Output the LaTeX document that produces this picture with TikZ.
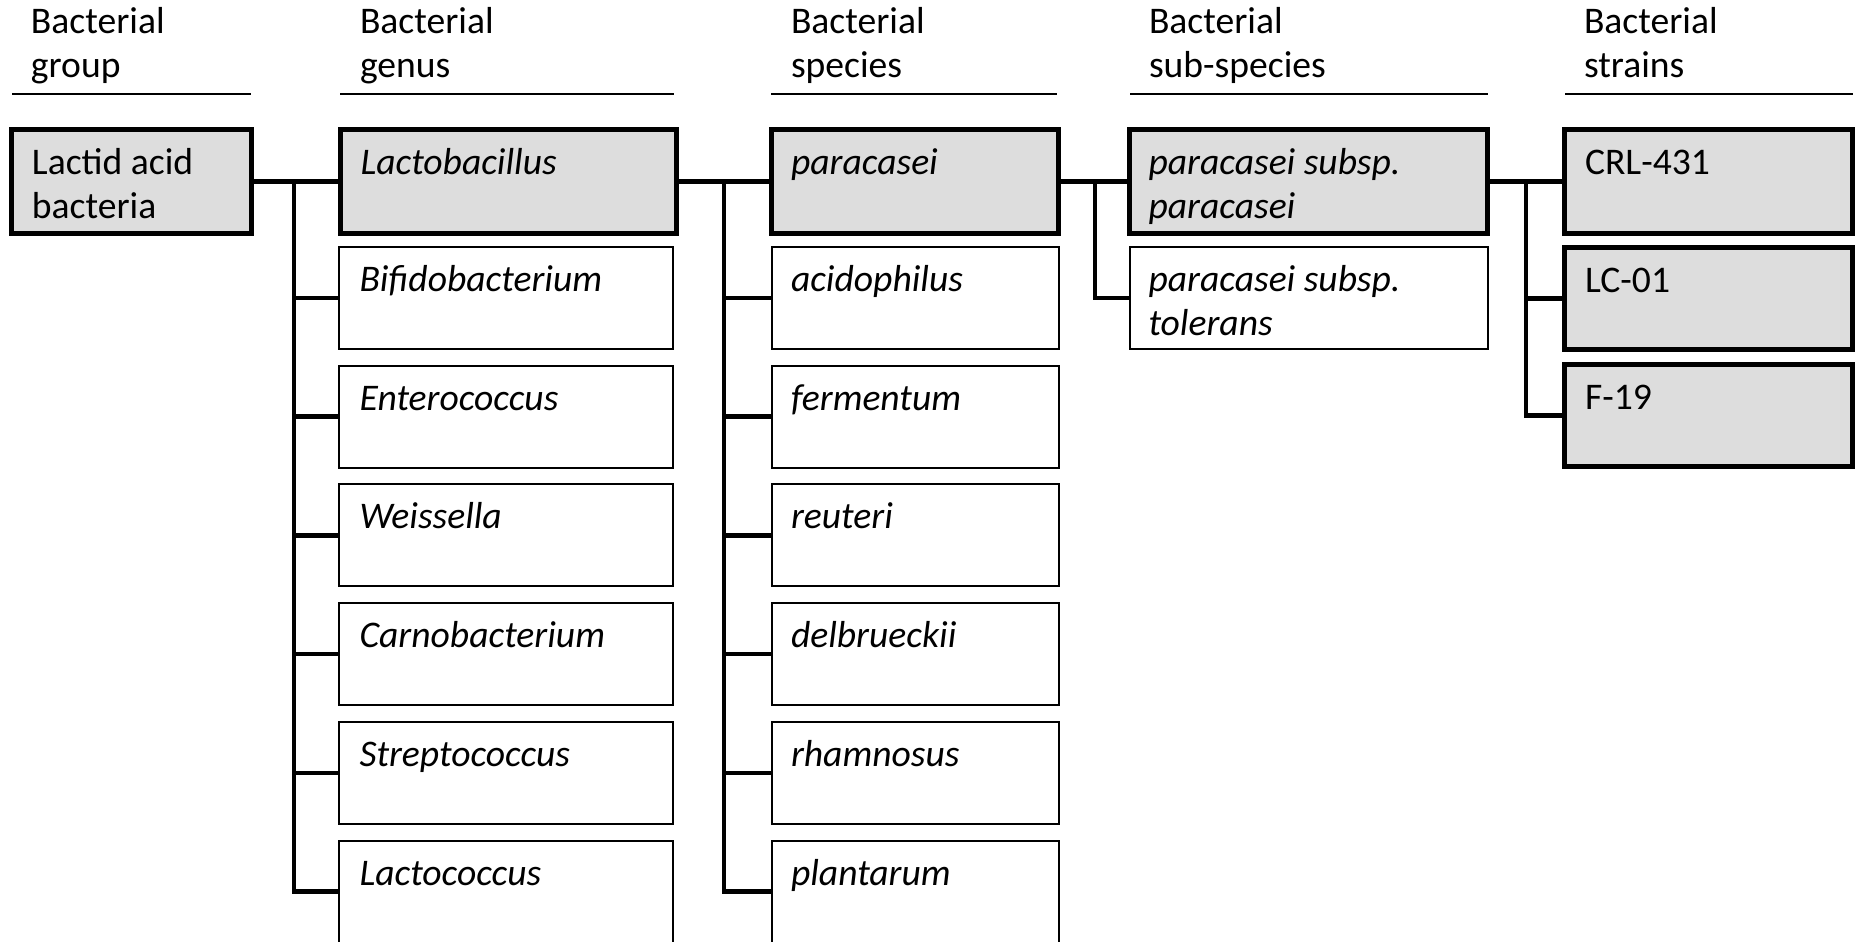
\documentclass[tikz,border=0pt]{standalone}
\usepackage{fontspec}
\setmainfont{Carlito}
\usetikzlibrary{calc}
\definecolor{boxfill}{RGB}{221,221,221}
\tikzset{
  every node/.style={inner sep=0pt, outer sep=0pt},
  hibox/.style={draw, rectangle, line width=2.5pt, fill=boxfill},
  plainbox/.style={draw, rectangle, line width=1pt, fill=white},
  lbl/.style={anchor=base west, align=left, font=\fontsize{18.8pt}{22.2pt}\selectfont},
  link/.style={line width=2.25pt},
  rulerline/.style={line width=0.9pt},
}
\begin{document}
\begin{tikzpicture}[x=0.5pt, y=-0.5pt]
\useasboundingbox (0,0) rectangle (1858,942);

% ---- column headers (anchored at the baseline of their last line) ----
\node[lbl] (h1) at (31,77.7) {Bacterial\\group};
\node[lbl] (h2) at (360,77.7) {Bacterial\\genus};
\node[lbl] (h3) at (791,77.7) {Bacterial\\species};
\node[lbl] (h4) at (1149,77.7) {Bacterial\\sub-species};
\node[lbl] (h5) at (1584,77.7) {Bacterial\\strains};
\draw[rulerline] (12,94.3) -- (251,94.3);
\draw[rulerline] (340,94.3) -- (674,94.3);
\draw[rulerline] (771,94.3) -- (1057,94.3);
\draw[rulerline] (1130,94.3) -- (1488,94.3);
\draw[rulerline] (1565,94.3) -- (1853,94.3);

% ---- group ----
\node[hibox, minimum width=119.75pt, minimum height=52pt] (grp) at (131.25,181.5) {};

% ---- genus column ----
\node[hibox, minimum width=168pt, minimum height=52pt] (g1) at (508,181.5) {};
\foreach \i/\yy in {2/298,3/416.7,4/535.4,5/654.1,6/772.8,7/891.5}
  \node[plainbox, minimum width=167pt, minimum height=51pt] (g\i) at (506,\yy) {};

% ---- species column ----
\node[hibox, minimum width=143.5pt, minimum height=52pt] (s1) at (915,181.5) {};
\foreach \i/\yy in {2/298,3/416.7,4/535.4,5/654.1,6/772.8,7/891.5}
  \node[plainbox, minimum width=143.5pt, minimum height=51pt] (s\i) at (915,\yy) {};

% ---- sub-species column ----
\node[hibox, minimum width=179pt, minimum height=52pt] (u1) at (1308.5,181.5) {};
\node[plainbox, minimum width=179pt, minimum height=51pt] (u2) at (1308.5,298) {};

% ---- strains column ----
\node[hibox, minimum width=144pt, minimum height=52pt] (c1) at (1708.5,181.5) {};
\node[hibox, minimum width=144pt, minimum height=51pt] (c2) at (1708.5,298.5) {};
\node[hibox, minimum width=144pt, minimum height=51pt] (c3) at (1708.5,415.5) {};

% ---- box texts ----
\node[lbl] (tgrp) at ($(grp.north west)+(20.5,88.9)$) {Lactid acid\\bacteria};
\node[lbl] (tg1) at ($(g1.north west)+(20.5,44.5)$) {\itshape Lactobacillus};
\node[lbl] (tg2) at ($(g2.north west)+(20.5,44.5)$) {\itshape Bifidobacterium};
\node[lbl] (tg3) at ($(g3.north west)+(20.5,44.5)$) {\itshape Enterococcus};
\node[lbl] (tg4) at ($(g4.north west)+(20.5,44.5)$) {\itshape Weissella};
\node[lbl] (tg5) at ($(g5.north west)+(20.5,44.5)$) {\itshape Carnobacterium};
\node[lbl] (tg6) at ($(g6.north west)+(20.5,44.5)$) {\itshape Streptococcus};
\node[lbl] (tg7) at ($(g7.north west)+(20.5,44.5)$) {\itshape Lactococcus};

\node[lbl] (ts1) at ($(s1.north west)+(19.5,44.5)$) {\itshape paracasei};
\node[lbl] (ts2) at ($(s2.north west)+(19.5,44.5)$) {\itshape acidophilus};
\node[lbl] (ts3) at ($(s3.north west)+(19.5,44.5)$) {\itshape fermentum};
\node[lbl] (ts4) at ($(s4.north west)+(19.5,44.5)$) {\itshape reuteri};
\node[lbl] (ts5) at ($(s5.north west)+(19.5,44.5)$) {\itshape delbrueckii};
\node[lbl] (ts6) at ($(s6.north west)+(19.5,44.5)$) {\itshape rhamnosus};
\node[lbl] (ts7) at ($(s7.north west)+(19.5,44.5)$) {\itshape plantarum};

\node[lbl] (tu1) at ($(u1.north west)+(19,88.9)$) {\itshape paracasei subsp.\\\itshape paracasei};
\node[lbl] (tu2) at ($(u2.north west)+(19,88.9)$) {\itshape paracasei subsp.\\\itshape tolerans};

\node[lbl] (tc1) at ($(c1.north west)+(20.5,44.5)$) {CRL-431};
\node[lbl] (tc2) at ($(c2.north west)+(20.5,44.5)$) {LC-01};
\node[lbl] (tc3) at ($(c3.north west)+(20.5,44.5)$) {F-19};

% ---- connectors ----
\coordinate (gt) at (294,181.5);
\coordinate (st) at (724,181.5);
\coordinate (ut) at (1095,181.5);
\coordinate (ct) at (1526,181.5);

\draw[link] (grp.east) -- (g1.west);
\draw[link] (gt) |- (g7.west);
\foreach \i in {2,...,6} \draw[link] (gt |- g\i.west) -- (g\i.west);

\draw[link] (g1.east) -- (s1.west);
\draw[link] (st) |- (s7.west);
\foreach \i in {2,...,6} \draw[link] (st |- s\i.west) -- (s\i.west);

\draw[link] (s1.east) -- (u1.west);
\draw[link] (ut) |- (u2.west);

\draw[link] (u1.east) -- (c1.west);
\draw[link] (ct) |- (c3.west);
\draw[link] (ct |- c2.west) -- (c2.west);
\end{tikzpicture}
\end{document}
